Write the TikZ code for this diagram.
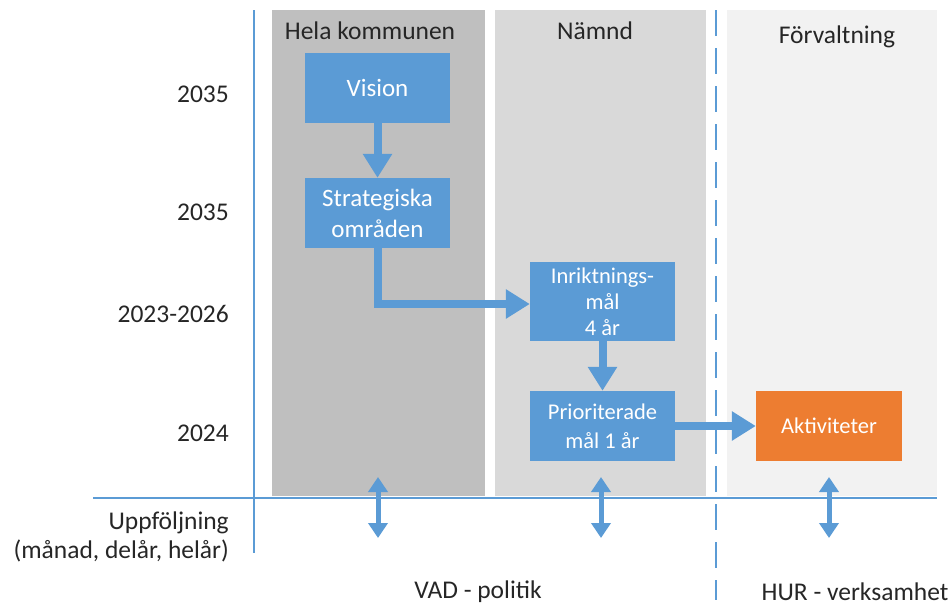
\documentclass[tikz,border=0pt]{standalone}
\usepackage{fontspec}
\setmainfont{Carlito}
\usetikzlibrary{arrows.meta}
\definecolor{blu}{HTML}{5B9BD5}
\definecolor{ora}{HTML}{ED7D31}
\definecolor{gdark}{HTML}{BFBFBF}
\definecolor{gmid}{HTML}{D9D9D9}
\definecolor{glight}{HTML}{F2F2F2}
\definecolor{txt}{HTML}{262626}
\tikzset{
  panel/.style={draw=none,inner sep=0pt,anchor=north west},
  hdr/.style={text=txt,font=\fontsize{25.5}{28}\selectfont,inner sep=0pt},
  yr/.style={text=txt,font=\fontsize{25.5}{28}\selectfont,inner sep=0pt,anchor=east},
  bbox/.style={fill=blu,text=white,minimum width=145pt,minimum height=70pt,inner sep=0pt,align=center},
  bigtxt/.style={font=\fontsize{25}{31}\selectfont},
  smtxt/.style={font=\fontsize{22.5}{29}\selectfont},
  flow/.style={draw=blu,line width=8pt,-{Triangle[width=28pt,length=24pt]}},
  dbl/.style={draw=blu,line width=5pt,{Triangle[width=19pt,length=15pt]}-{Triangle[width=19pt,length=15pt]}},
}
\begin{document}
\begin{tikzpicture}[x=1pt,y=-1pt]
\useasboundingbox (0,0) rectangle (950,606);
% panels
\node[panel,fill=gdark,minimum width=213pt,minimum height=486pt] (p1) at (272,10) {};
\node[panel,fill=gmid,minimum width=211pt,minimum height=486pt] (p2) at (495,10) {};
\node[panel,fill=glight,minimum width=210pt,minimum height=486pt] (p3) at (727,10) {};
% axis lines
\coordinate (vt) at (254,10);
\coordinate (vb) at (254,553);
\draw[blu,line width=2.5pt] (vt) -- (vb);
\coordinate (hl) at (93,498);
\coordinate (hr) at (937,498);
\draw[blu,line width=2.5pt] (hl) -- (hr);
\coordinate (dt) at (716,10);
\coordinate (db) at (716,600);
\draw[blu,line width=2.5pt,dash pattern=on 26pt off 12pt] (dt) -- (db);
% headers
\node[hdr] (h1) at (370,31) {Hela kommunen};
\node[hdr] (h2) at (595,31) {Nämnd};
\node[hdr] (h3) at (837,37) {Förvaltning};
% years
\node[yr] (y1) at (229,94) {2035};
\node[yr] (y2) at (229,212) {2035};
\node[yr] (y3) at (229,314) {2023-2026};
\node[yr] (y4) at (229,433) {2024};
% boxes
\node[bbox,bigtxt] (vis) at (377.5,88) {Vision};
\node[bbox,bigtxt] (str) at (377.5,213) {Strategiska\\områden};
\node[bbox,font=\fontsize{22.5}{26}\selectfont,minimum height=79pt] (inr) at (602.5,301.5) {Inriktnings-\\mål\\4 år};
\node[bbox,smtxt] (pri) at (602.5,426) {Prioriterade\\mål 1 år};
\node[bbox,smtxt,fill=ora,minimum width=146pt] (akt) at (829,426) {Aktiviteter};
% flow arrows
\draw[flow] (vis.south) -- (str.north);
\draw[flow] (str.south) |- (inr.west |- 0,304);
\draw[flow] (inr.south) -- (pri.north);
\draw[flow] (pri.east) -- (akt.west);
% follow-up arrows
\coordinate (a1t) at (378,477); \coordinate (a1b) at (378,538);
\coordinate (a2t) at (601,477); \coordinate (a2b) at (601,538);
\coordinate (a3t) at (829,477); \coordinate (a3b) at (829,538);
\draw[dbl] (a1t) -- (a1b);
\draw[dbl] (a2t) -- (a2b);
\draw[dbl] (a3t) -- (a3b);
% bottom texts
\node[text=txt,font=\fontsize{25.5}{29}\selectfont,align=right,anchor=east,inner sep=0pt] (upp) at (229,537) {Uppföljning\\(månad, delår, helår)};
\node[hdr] (vad) at (478,592) {VAD - politik};
\node[hdr] (hur) at (855,592) {HUR - verksamhet};
\end{tikzpicture}
\end{document}
